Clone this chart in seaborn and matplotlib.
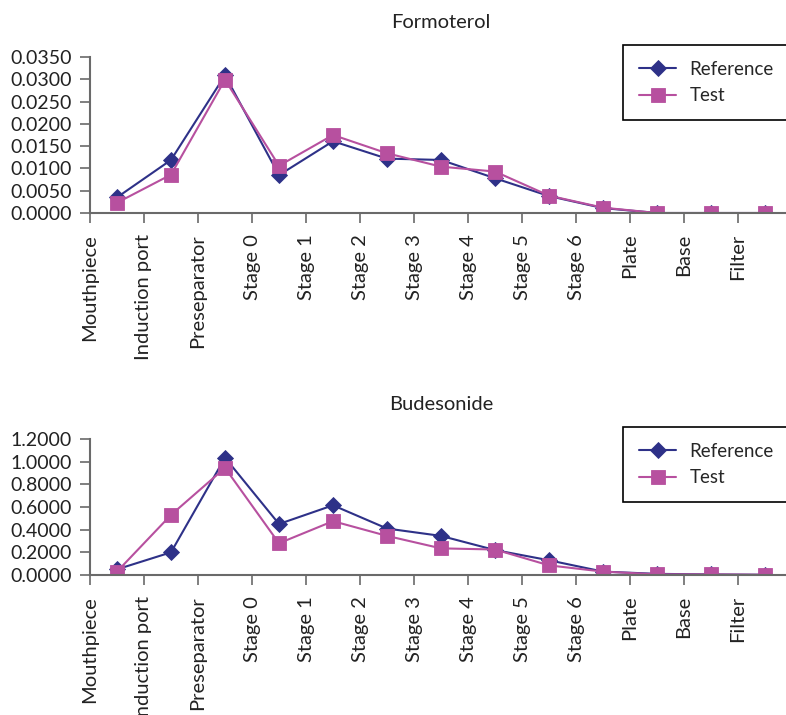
import numpy as np
import pandas as pd
import matplotlib
matplotlib.use('Agg')
import matplotlib.pyplot as plt
import seaborn as sns

# 数据
stages = ['Mouthpiece', 'Induction port', 'Preseparator', 'Stage 0', 'Stage 1',
          'Stage 2', 'Stage 3', 'Stage 4', 'Stage 5', 'Stage 6', 'Plate', 'Base', 'Filter']
series_names = ['Reference', 'Test']

formoterol_ref = [0.0035, 0.0119, 0.0309, 0.0085, 0.0161, 0.0122, 0.0119,
                  0.0078, 0.0038, 0.0011, 0.0000, 0.0000, 0.0000]
formoterol_test = [0.0023, 0.0086, 0.0299, 0.0106, 0.0175, 0.0134, 0.0104,
                   0.0093, 0.0039, 0.0012, 0.0000, 0.0000, 0.0000]

budesonide_ref = [0.05, 0.20, 1.035, 0.45, 0.615, 0.41, 0.345,
                  0.22, 0.13, 0.03, 0.01, 0.005, 0.002]
budesonide_test = [0.03, 0.53, 0.945, 0.28, 0.475, 0.345, 0.235,
                   0.225, 0.085, 0.03, 0.006, 0.005, 0.002]

sns.set_theme(style='white')
plt.rcParams['font.family'] = ['Lato', 'DejaVu Sans']
plt.rcParams['axes.unicode_minus'] = False

colors = {'Reference': '#2e3188', 'Test': '#b7509f'}
markers = {'Reference': 'D', 'Test': 's'}
sizes = {'Reference': 8, 'Test': 10}


def make_frame(ref, test):
    rows = []
    for name, vals in zip(series_names, [ref, test]):
        for i, v in enumerate(vals):
            rows.append({'pos': i + 0.5, 'value': v, 'series': name})
    return pd.DataFrame(rows)


fig = plt.figure(figsize=(7.86, 7.15), dpi=100)
W, H = 786, 715

panels = [
    ('Formoterol', formoterol_ref, formoterol_test, 57, 213, 0.035, 0.005, 22, 45),
    ('Budesonide', budesonide_ref, budesonide_test, 439, 575, 1.2, 0.2, 405, 427),
]

for title, ref, test, top, bot, ymax, step, ty, ly in panels:
    ax = fig.add_axes([90 / W, 1 - bot / H, 702 / W, (bot - top) / H])
    df = make_frame(ref, test)
    for name in series_names:
        sub = df[df['series'] == name]
        sns.lineplot(data=sub, x='pos', y='value', ax=ax, color=colors[name],
                     marker=markers[name], markersize=sizes[name], markeredgewidth=0.6,
                     markeredgecolor=colors[name], linewidth=1.5, label=name)
    ax.set_xlim(0, 13)
    ax.set_ylim(0, ymax)
    yt = np.arange(0, ymax + step / 2, step)
    ax.set_yticks(yt)
    ax.set_yticklabels(['{:.4f}'.format(v) for v in yt], fontsize=14, color='#222222')
    ax.set_xticks(range(13))
    ax.set_xticklabels(stages, rotation=90, fontsize=14.5, color='#222222', va='top', ha='center')
    ax.set_xlabel('')
    ax.set_ylabel('')
    for s in ['top', 'right']:
        ax.spines[s].set_visible(False)
    for s in ['left', 'bottom']:
        ax.spines[s].set_color('#6a6a6a')
        ax.spines[s].set_linewidth(1.5)
    ax.tick_params(axis='both', which='major', length=7, width=1.2, color='#6a6a6a',
                   direction='out', left=True, bottom=True)
    ax.tick_params(axis='x', pad=8)
    ax.tick_params(axis='y', pad=6)
    ax.patch.set_alpha(0)

    fig.text(441 / W, 1 - ty / H, title, ha='center', va='center', fontsize=14.5, color='#222222')

    leg = ax.legend(loc='upper left', bbox_to_anchor=(623 / W, 1 - ly / H),
                    bbox_transform=fig.transFigure, frameon=True, fancybox=False,
                    fontsize=13.5, handlelength=2.0, borderpad=0.85, labelspacing=0.5,
                    borderaxespad=0, handletextpad=0.7)
    leg.get_frame().set_edgecolor('black')
    leg.get_frame().set_linewidth(1.2)
    leg.get_frame().set_alpha(1)

fig.savefig('out.png', dpi=100)
